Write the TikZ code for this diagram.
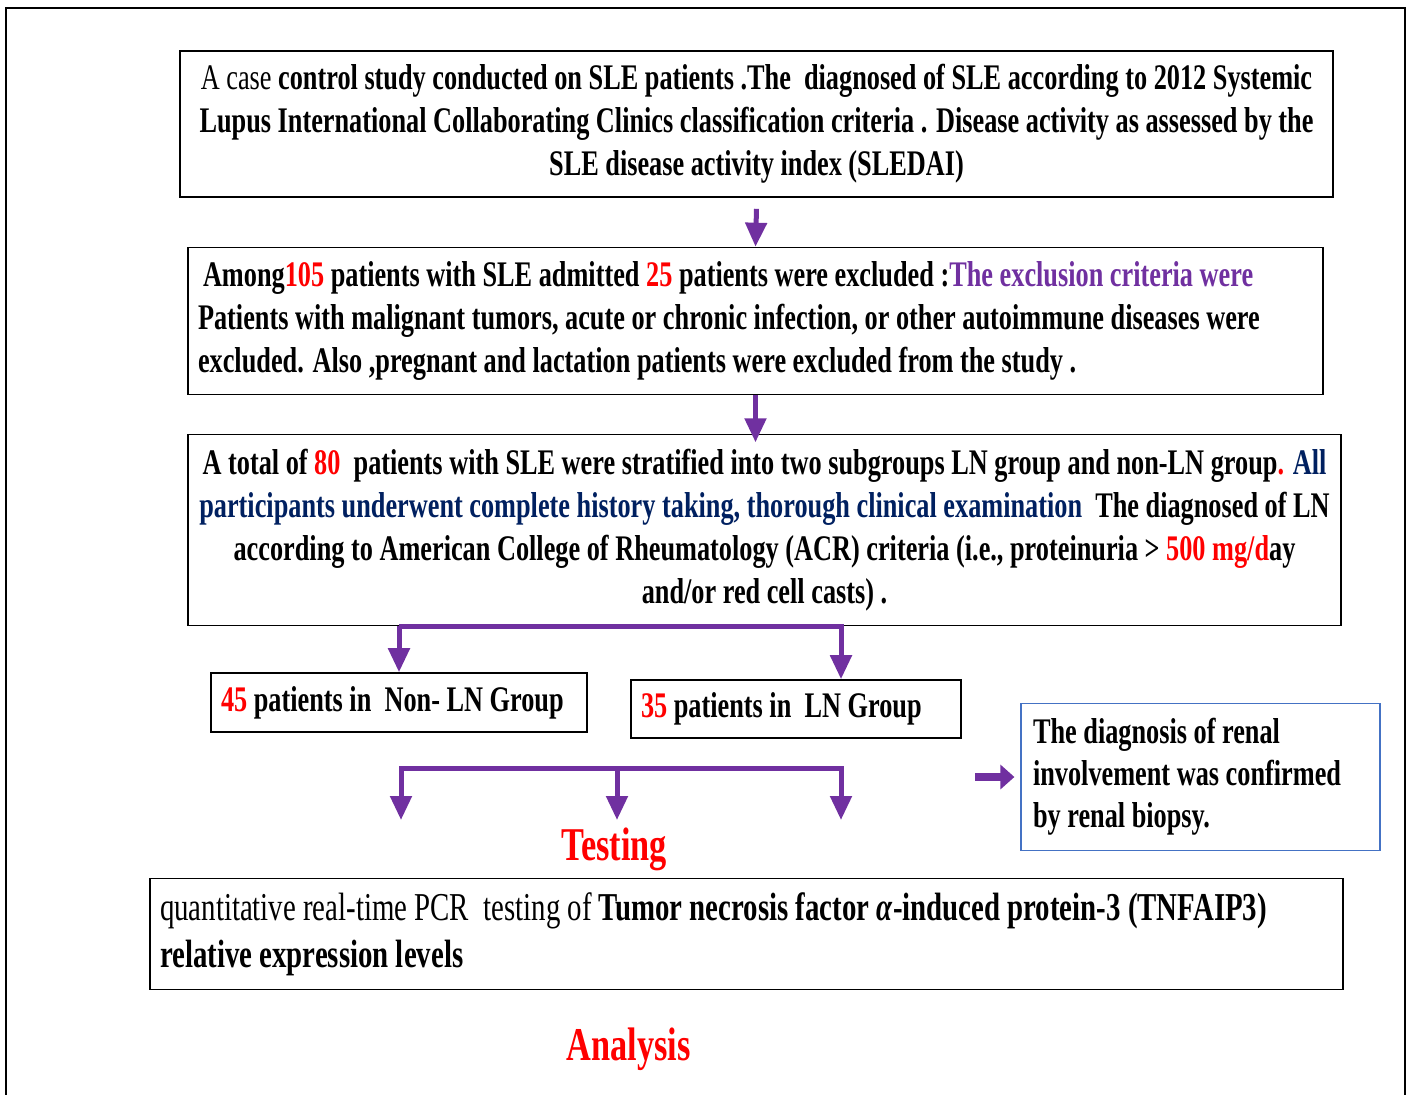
\documentclass[tikz,border=0pt]{standalone}
\usepackage{fontspec}
\setmainfont{Liberation Serif}[FakeStretch=0.73]
\usetikzlibrary{arrows.meta}
\definecolor{flowpurple}{HTML}{7030A0}
\definecolor{partnavy}{HTML}{002060}
\definecolor{renalblue}{HTML}{4472C4}
\newcommand{\rednum}[1]{\textcolor{red}{#1}}
\begin{document}
\begin{tikzpicture}
 	[x=1pt,y=-1pt,
 	 box/.style={draw,line width=1.6pt,inner xsep=10pt,inner ysep=0pt,font=\fontsize{36}{43}\selectfont\bfseries},
 	 flow/.style={draw=flowpurple,line width=5pt,-{Triangle[width=21pt,length=24pt]}},
 	 stage/.style={text=red,font=\fontsize{47}{50}\selectfont\bfseries,anchor=base}]
 	\useasboundingbox (0,0) rectangle (1411,1095);
 	\draw[line width=1.5pt] (6,1100) -- (6,8) -- (1405,8) -- (1405,1100);
 	% boxes
 	\node[box,minimum width=1153pt,minimum height=146pt,align=center] (study) at (756.5,124)
 		{{\mdseries A case} control study conducted on SLE patients .The\ \ diagnosed of SLE according to 2012 Systemic\\
 		 Lupus International Collaborating Clinics classification criteria . Disease activity as assessed by the\\
 		 SLE disease activity index (SLEDAI)};
 	\node[box,minimum width=1135pt,minimum height=147pt,text width=1115pt,align=flush left] (excl) at (755.5,321)
 		{\hspace*{5pt}Among\rednum{105} patients with SLE admitted \rednum{25} patients were excluded :\textcolor{flowpurple}{The exclusion criteria were}\\
 		 Patients with malignant tumors, acute or chronic infection, or other autoimmune diseases were\\
 		 excluded. Also ,pregnant and lactation patients were excluded from the study .};
 	\node[box,minimum width=1153pt,minimum height=191pt,align=center] (total) at (764.5,530)
 		{A total of \rednum{80}\ \ patients with SLE were stratified into two subgroups LN group and non-LN group\rednum{.} \textcolor{partnavy}{All}\\
 		 \textcolor{partnavy}{participants underwent complete history taking, thorough clinical examination}\ \ The diagnosed of LN\\
 		 according to American College of Rheumatology (ACR) criteria (i.e., proteinuria > \rednum{500 mg/d}ay\\
 		 and/or red cell casts) .};
 	\node[box,minimum width=376pt,minimum height=59pt,text width=356pt,align=flush left] (nonln) at (399,702.5)
 		{\rednum{45} patients in\ \ Non-~LN Group};
 	\node[box,minimum width=330pt,minimum height=58pt,text width=310pt,align=flush left] (ln) at (796,709)
 		{\rednum{35} patients in\ \ LN Group};
 	\node[box,draw=renalblue,line width=1.2pt,inner xsep=12pt,minimum width=359pt,minimum height=147pt,text width=335pt,align=flush left,
 		font=\fontsize{36}{42}\selectfont\bfseries] (renal) at (1200.5,777)
 		{The diagnosis of renal\\ involvement was confirmed\\ by renal biopsy.};
 	\node[box,minimum width=1193pt,minimum height=111pt,text width=1173pt,align=flush left,
 		font=\fontsize{39.5}{47}\selectfont\bfseries] (pcr) at (746.5,934)
 		{{\mdseries quantitative real-time PCR\ \ testing of} Tumor necrosis factor \textit{α}-induced protein-3 (TNFAIP3)\\
 		 relative expression levels};
 	\node[stage] (testing) at (614,860) {Testing};
 	\node[stage] (analysis) at (628.5,1060) {Analysis};
 	% connectors
 	\draw[flow] ([yshift=-11pt]study.south) -- (excl.north);
 	\draw[flow] (excl.south) -- ++(0,47);
 	\coordinate (split) at (399,626);
 	\draw[flow] (split) -- (nonln.north);
 	\draw[flow] (split) -| ([xshift=45pt]ln.north);
 	\coordinate (fork) at (617,768);
 	\coordinate (t1) at (401,820);
 	\coordinate (t2) at (617,820);
 	\coordinate (t3) at (841,820);
 	\draw[flow] (fork) -| (t1);
 	\draw[flow] (fork) -- (t2);
 	\draw[flow] (fork) -| (t3);
 	\draw[draw=flowpurple,line width=8pt,-{Triangle[width=24pt,length=14pt]}] ([xshift=-45pt]renal.west) -- ([xshift=-6pt]renal.west);
\end{tikzpicture}
\end{document}
